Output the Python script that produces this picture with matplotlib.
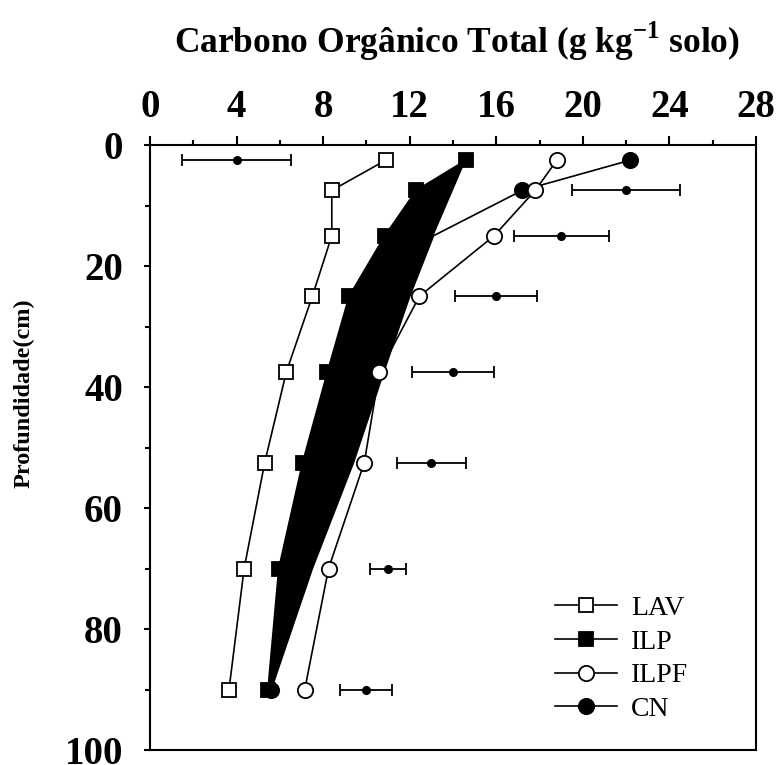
import matplotlib
matplotlib.use('Agg')
import matplotlib.pyplot as plt
import numpy as np

plt.rcParams['font.family'] = 'Liberation Serif'
plt.rcParams['font.weight'] = 'bold'
plt.rcParams['mathtext.fontset'] = 'custom'
plt.rcParams['mathtext.rm'] = 'Liberation Serif:bold'
plt.rcParams['mathtext.bf'] = 'Liberation Serif:bold'

# profundidade (cm) e COT (g/kg)
depth = np.array([2.5, 7.5, 15, 25, 37.5, 52.5, 70, 90])
lav = np.array([10.9, 8.4, 8.4, 7.5, 6.3, 5.3, 4.35, 3.65])
ilp = np.array([14.6, 12.3, 10.85, 9.2, 8.2, 7.05, 5.95, 5.45])
ilpf = np.array([18.8, 17.8, 15.9, 12.45, 10.6, 9.9, 8.25, 7.15])
cn = np.array([22.2, 17.2, 13.1, 12.0, 10.8, 9.4, 7.5, 5.6])
# pontos com barra de erro
ref_mean = np.array([4.0, 22.0, 19.0, 16.0, 14.0, 13.0, 11.0, 10.0])
ref_sd = np.array([2.5, 2.5, 2.2, 1.9, 1.9, 1.6, 0.85, 1.2])

fig = plt.figure(figsize=(7.79, 7.65), dpi=100)
ax = fig.add_axes([150/779, 15/765, 606/779, 605/765])

# faixa preta entre ILP e CN
ax.fill(np.concatenate([ilp, cn[:1:-1]]), np.concatenate([depth, depth[:1:-1]]),
        color='black', lw=0, zorder=1)

ax.errorbar(ref_mean, depth, xerr=ref_sd, fmt='o', color='black', ms=5.5,
            capsize=4, elinewidth=1.3, capthick=1.3, zorder=2)
ax.plot(lav, depth, '-s', color='k', mfc='white', ms=10.5, mew=1.3, lw=1.2, label='LAV', zorder=3)
ax.plot(ilp, depth, '-s', color='k', mfc='k', ms=10.5, mew=1.3, lw=1.2, label='ILP', zorder=3)
ax.plot(ilpf, depth, '-o', color='k', mfc='white', ms=11, mew=1.3, lw=1.2, label='ILPF', zorder=4)
ax.plot(cn, depth, '-o', color='k', mfc='k', ms=11, mew=1.3, lw=1.2, label='CN', zorder=3,
        markevery=[0, 1, 7])

ax.set_xlim(0, 28)
ax.set_ylim(100, 0)
ax.xaxis.tick_top()
ax.set_xticks(np.arange(0, 29, 4))
ax.set_xticks(np.arange(0, 29, 2), minor=True)
ax.set_yticks(np.arange(0, 101, 20))
ax.set_yticks(np.arange(0, 101, 10), minor=True)
ax.tick_params(axis='x', which='major', length=6.5, width=1.5, pad=7, labelsize=28)
ax.tick_params(axis='x', which='minor', length=3.6, width=1.5)
ax.tick_params(axis='y', which='major', length=4.5, width=1.5, pad=15, labelsize=28)
ax.tick_params(axis='y', which='minor', length=3.5, width=1.5)
for s in ax.spines.values():
    s.set_linewidth(1.5)

ax.set_xlabel(r'Carbono Orgânico Total (g kg$^{\mathbf{-1}}$ solo)', fontsize=25.5, fontweight='bold')
ax.xaxis.set_label_position('top')
ax.xaxis.set_label_coords(0.507, 1.152)
ax.set_ylabel('Profundidade(cm)', fontsize=17.5, fontweight='bold')
ax.yaxis.set_label_coords(-0.19, 0.59)

ax.legend(loc='lower left', bbox_to_anchor=(0.668, 0.046), frameon=False,
          prop={'size': 20, 'weight': 'normal'}, handlelength=2.25, handletextpad=0.5,
          labelspacing=0.3, borderpad=0, borderaxespad=0)

plt.savefig('out.png', dpi=100)
